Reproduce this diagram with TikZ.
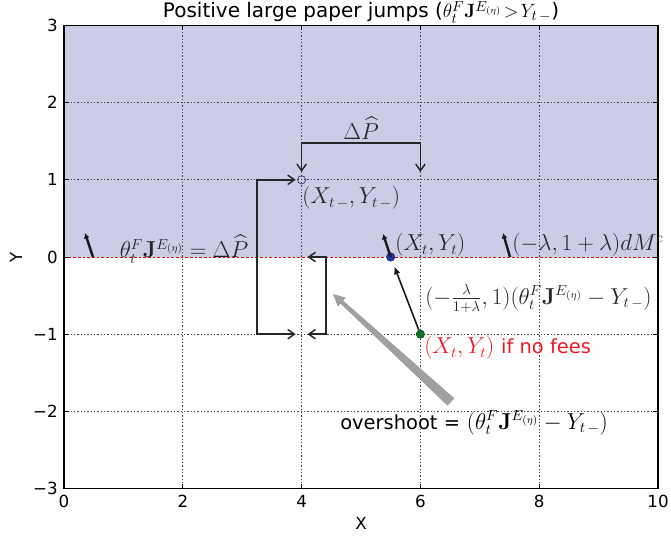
\documentclass[tikz,border=0pt]{standalone}
\usepackage{amsmath}
\usepackage[no-math]{fontspec}
\setmainfont{DejaVu Sans}
\usetikzlibrary{arrows.meta,calc}
\definecolor{shadecol}{RGB}{204,204,230}
\definecolor{dotblue}{RGB}{30,55,165}
\definecolor{dotgreen}{RGB}{20,115,40}
\definecolor{ringcol}{RGB}{50,50,100}
\definecolor{labred}{RGB}{235,25,35}
\definecolor{arrgray}{RGB}{160,160,160}
\newcommand{\sanstxt}[1]{{\fontsize{14.6}{17}\selectfont #1}}
\begin{document}
\begin{tikzpicture}[x=0.75pt,y=-0.75pt,
  ann/.style={font=\fontsize{16}{19}\selectfont, inner sep=0pt, text=black!85},
  ticklab/.style={font=\fontsize{12.5}{14}\selectfont, inner sep=0pt},
  gridline/.style={black!75, line width=0.5pt, dash pattern=on 1pt off 1.5pt},
  bracket/.style={line width=1.1pt, black!85, {Straight Barb[length=5pt,width=7pt]}-{Straight Barb[length=5pt,width=7pt]}},
  fat/.style={line width=1.8pt, black!90, -{Latex[length=4pt,width=4.5pt]}},
  dot/.style={circle, inner sep=0pt, minimum size=6.2pt, line width=0.5pt},
]
\useasboundingbox (0,0) rectangle (671,541);
% shaded region
\fill[shadecol] (64,25.4) rectangle (658,257);
% grid
\foreach \x in {182.8,301.6,420.4,539.2} \draw[gridline] (\x,25.4) -- (\x,488.6);
\foreach \y in {102.6,179.8,334.2,411.4} \draw[gridline] (64,\y) -- (658,\y);
\draw[red, line width=0.5pt, dash pattern=on 2pt off 1.5pt] (64,257) -- (658,257);
% frame and ticks
\draw[line width=0.8pt] (64,25.4) rectangle (658,488.6);
\foreach \x in {182.8,301.6,420.4,539.2} {
  \draw[line width=0.5pt] (\x,488.6) -- ++(0,-5);
  \draw[line width=0.5pt] (\x,25.4) -- ++(0,5);
}
\foreach \y in {102.6,179.8,257,334.2,411.4} {
  \draw[line width=0.5pt] (64,\y) -- ++(5,0);
  \draw[line width=0.5pt] (658,\y) -- ++(-5,0);
}
% tick labels
\foreach \x/\t [count=\i] in {64/0,182.8/2,301.6/4,420.4/6,539.2/8,658/10}
  \node[ticklab] (xl\i) at (\x,501) {\t};
\foreach \y/\t [count=\i] in {25.4/3,102.6/2,179.8/1,257/0,334.2/−1,411.4/−2,488.6/−3}
  \node[ticklab, anchor=east] (yl\i) at (58,\y) {\t};
\node[ticklab] (xlab) at (361,523) {X};
\node[ticklab, rotate=90] (ylab) at (16,257) {Y};
% title
\node[font=\fontsize{15}{18}\selectfont, anchor=base, inner sep=0pt] (title) at (361,18)
  {Positive large paper jumps ($\theta_t^F\mathbf{J}^{E_{(\eta)}}\!>\!Y_{t\,-}$)};
% points
\node[dot, draw=ringcol] (prev) at (301.6,179.8) {};
\node[dot, fill=dotblue, draw=dotblue!70!black] (cur) at (390.7,257) {};
\node[dot, fill=dotgreen, draw=dotgreen!60!black] (nofee) at (420.4,334.2) {};
% Delta P bracket
\coordinate (dpa) at (301.6,172);
\coordinate (dpb) at (420.4,172);
\draw[bracket] (dpa) -- (301.6,143) -- (420.4,143) -- (dpb);
\node[ann, anchor=south] (dplab) at (361,140) {$\Delta\widehat{P}$};
% left bracket
\coordinate (lba) at (295.7,334.2);
\coordinate (lbb) at (295.7,179.8);
\draw[bracket] (lba) -- (257,334.2) -- (257,179.8) -- (lbb);
% right bracket
\coordinate (rba) at (307.5,257);
\coordinate (rbb) at (307.5,334.2);
\draw[bracket] (rba) -- (326,257) -- (326,334.2) -- (rbb);
% small fat arrows
\coordinate (fa1) at (93,257);
\coordinate (fa1t) at (85,233);
\coordinate (fa3) at (510,257);
\coordinate (fa3t) at (503,233);
\coordinate (fa2t) at (383,234);
\draw[fat] (fa1) -- (fa1t);
\draw[fat] (fa3) -- (fa3t);
\draw[fat] (cur.center) -- (fa2t);
% green to blue arrow
\draw[line width=1.2pt, black!90, -{Latex[length=6pt,width=5pt]}] (nofee) -- ($(nofee.center)!0.88!(cur.center)$);
% gray overshoot arrow
\fill[arrgray] (333,294) -- (345.9,297.7) -- (343.2,300.6) -- (454.4,398.3) -- (447.6,405.7) -- (340.5,303.6) -- (337.8,306.5) -- cycle;
% labels
\node[ann, anchor=west] (prevlab) at (302,198) {$(X_{t\,-},Y_{t\,-})$};
\node[ann] (leftlab) at (184,249) {$\theta_t^F\mathbf{J}^{E_{(\eta)}}=\Delta\widehat{P}$};
\node[ann, anchor=west] (curlab) at (395,245) {$(X_t,Y_t)$};
\node[ann, anchor=west] (dmlab) at (512,245) {$(-\lambda,1+\lambda)dM^c$};
\node[ann, anchor=west] (fraclab) at (425,299) {$(-\frac{\lambda}{1+\lambda},1)(\theta_t^F\mathbf{J}^{E_{(\eta)}}-Y_{t\,-})$};
\node[ann, anchor=west, text=labred] (redlab) at (424,348) {$(X_t,Y_t)$ \sanstxt{if no fees}};
\node[ann, anchor=west, text=black] (overlab) at (340,423) {\sanstxt{overshoot =} $(\theta_t^F\mathbf{J}^{E_{(\eta)}}-Y_{t\,-})$};
\end{tikzpicture}
\end{document}
